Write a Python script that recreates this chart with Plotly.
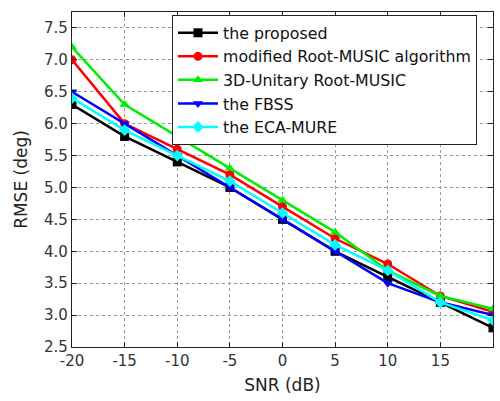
import plotly.graph_objects as go

snr = [-20, -15, -10, -5, 0, 5, 10, 15, 20]
x_tick_labels = ["-20", "-15", "-10", "-5", "0", "5", "10", "15", "20"]
proposed = [6.3, 5.8, 5.4, 5.0, 4.5, 4.0, 3.6, 3.2, 2.8]
modified_root_music = [7.0, 6.0, 5.6, 5.2, 4.7, 4.2, 3.8, 3.3, 3.05]
unitary_3d = [7.2, 6.3, 5.8, 5.3, 4.8, 4.3, 3.7, 3.3, 3.1]
fbss = [6.5, 6.0, 5.5, 5.0, 4.5, 4.0, 3.5, 3.2, 3.0]
eca_mure = [6.4, 5.9, 5.5, 5.1, 4.6, 4.1, 3.7, 3.2, 2.92]

names = ["the proposed", "modified Root-MUSIC algorithm", "3D-Unitary Root-MUSIC",
         "the FBSS", "the ECA-MURE"]
series = [proposed, modified_root_music, unitary_3d, fbss, eca_mure]
colors = ["#000000", "#ff0000", "#00ee00", "#0000ff", "#00ffff"]
symbols = ["square", "circle", "triangle-up", "triangle-down", "diamond"]

fig = go.Figure()
for name, ys, c, s in zip(names, series, colors, symbols):
    fig.add_trace(go.Scatter(
        x=snr, y=ys, name=name, mode="lines+markers",
        line=dict(color=c, width=2.5),
        marker=dict(symbol=s, size=9, color=c),
    ))

font_family = "DejaVu Sans, Liberation Sans, Arial, sans-serif"
axis_common = dict(
    showline=True, linecolor="#222", linewidth=1.2, mirror="ticks",
    ticks="inside", ticklen=5, tickcolor="#222",
    showgrid=True, gridcolor="#999", gridwidth=1, griddash="dot",
    zeroline=False, tickfont=dict(size=15, color="#333", family=font_family),
)

fig.update_xaxes(range=[-20, 20], tickvals=snr, ticktext=x_tick_labels,
                 title=dict(text="SNR (dB)", font=dict(size=17, color="#222", family=font_family), standoff=10),
                 **axis_common)
fig.update_yaxes(range=[2.5, 7.75], dtick=0.5, tick0=2.5, tickformat=".1f",
                 title=dict(text="RMSE (deg)", font=dict(size=17, color="#222", family=font_family), standoff=12),
                 **axis_common)

fig.update_layout(
    width=500, height=401,
    margin=dict(l=72, r=7, t=12, b=54),
    paper_bgcolor="white", plot_bgcolor="white",
    font=dict(family=font_family),
    showlegend=True,
    legend=dict(
        x=0.2375, y=0.991, xanchor="left", yanchor="top",
        bgcolor="white", bordercolor="#222", borderwidth=1,
        font=dict(size=15.8, color="#111", family=font_family),
        itemwidth=40, tracegroupgap=0,
    ),
)

fig.write_html("out.html")
